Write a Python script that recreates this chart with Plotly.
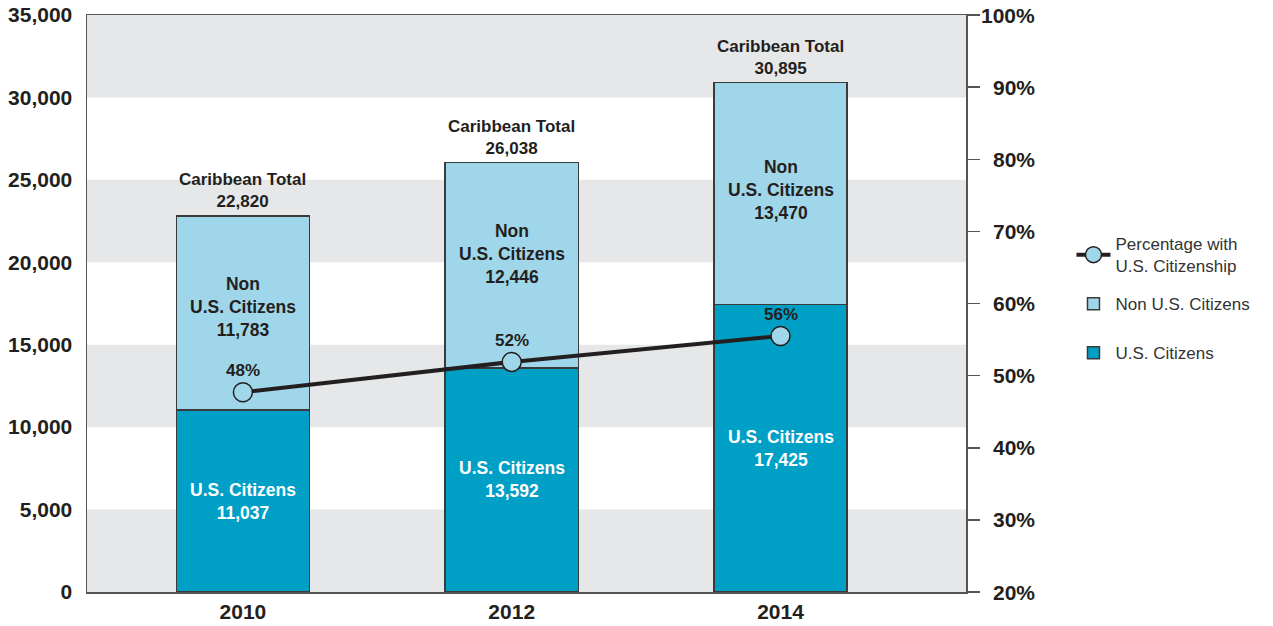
import plotly.graph_objects as go

years = ["2010", "2012", "2014"]
us_citizens = [11037, 13592, 17425]
non_us = [11783, 12446, 13470]
totals = [22820, 26038, 30895]
pct_with_us = [47.7, 51.9, 55.5]
pct_labels = ["48%", "52%", "56%"]
left_ticks = [0, 5000, 10000, 15000, 20000, 25000, 30000, 35000]
right_ticks = [20, 30, 40, 50, 60, 70, 80, 90, 100]

xpos = list(range(len(years)))
DARK = "#231f20"
AX = "#555555"
US_COL = "#00a0c6"
NON_COL = "#a0d6ea"
FONT = "Liberation Sans"

fig = go.Figure()

fig.add_trace(go.Bar(
    x=xpos, y=us_citizens, name="U.S. Citizens", width=0.495,
    marker=dict(color=US_COL, line=dict(color="#3a3a3a", width=1.5)),
    legend="legend3", hoverinfo="skip"))
fig.add_trace(go.Bar(
    x=xpos, y=non_us, name="Non U.S. Citizens", width=0.495,
    marker=dict(color=NON_COL, line=dict(color="#3a3a3a", width=1.5)),
    legend="legend2", hoverinfo="skip"))
fig.add_trace(go.Scatter(
    x=xpos, y=pct_with_us, yaxis="y2", mode="lines+markers",
    name="Percentage with<br>U.S. Citizenship",
    line=dict(color=DARK, width=4),
    marker=dict(size=19, color=NON_COL, line=dict(color=DARK, width=1.5)),
    legend="legend", hoverinfo="skip"))

# alternating bands
shapes = []
for i in range(0, len(left_ticks) - 1, 2):
    shapes.append(dict(type="rect", xref="paper", x0=0, x1=1, yref="y",
                       y0=left_ticks[i], y1=left_ticks[i + 1],
                       fillcolor="#e6e7e8", line=dict(width=0), layer="below"))

annotations = []
non_shift = [6, 11, 4]
for i in xpos:
    annotations.append(dict(
        x=i, y=totals[i], xref="x", yref="y", yanchor="bottom", yshift=3,
        text=f"<b>Caribbean Total<br>{totals[i]:,}</b>", showarrow=False,
        font=dict(family=FONT, size=17, color=DARK)))
    annotations.append(dict(
        x=i, y=us_citizens[i] + non_us[i] / 2, xref="x", yref="y",
        yshift=non_shift[i],
        text=f"<b>Non<br>U.S. Citizens<br>{non_us[i]:,}</b>", showarrow=False,
        font=dict(family=FONT, size=17.5, color=DARK)))
    annotations.append(dict(
        x=i, y=us_citizens[i] / 2, xref="x", yref="y",
        text=f"<b>U.S. Citizens<br>{us_citizens[i]:,}</b>", showarrow=False,
        font=dict(family=FONT, size=17.5, color="white")))
    annotations.append(dict(
        x=i, y=pct_with_us[i], xref="x", yref="y2", yanchor="bottom", yshift=10,
        text=f"<b>{pct_labels[i]}</b>", showarrow=False,
        font=dict(family=FONT, size=17, color=DARK)))

# right axis labels right-aligned
for t in right_ticks:
    annotations.append(dict(
        x=1, xref="paper", y=t, yref="y2", xanchor="right", xshift=71,
        text=f"<b>{t}%</b>", showarrow=False,
        font=dict(family=FONT, size=21, color=DARK)))

leg_common = dict(x=1.12, xanchor="left", yanchor="middle",
                  font=dict(family=FONT, size=17, color="#333333"),
                  bgcolor="rgba(0,0,0,0)", itemwidth=34)

fig.update_layout(
    width=1273, height=626,
    margin=dict(l=87, r=307, t=15, b=34, autoexpand=False),
    paper_bgcolor="white", plot_bgcolor="rgba(0,0,0,0)",
    barmode="stack", bargap=0,
    shapes=shapes, annotations=annotations,
    showlegend=True,
    legend=dict(y=0.584, **leg_common),
    legend2=dict(y=0.499, **leg_common),
    legend3=dict(y=0.414, **leg_common),
    xaxis=dict(range=[-0.58, 2.69], tickvals=xpos, ticktext=years,
               showgrid=False, zeroline=False,
               showline=True, linecolor=AX, linewidth=1.5, mirror=True,
               ticks="", tickfont=dict(family=FONT, size=21, color=DARK, weight="bold")),
    yaxis=dict(range=[0, 35000], tickvals=left_ticks,
               ticktext=[f"{v:,}" for v in left_ticks],
               showgrid=False, zeroline=False,
               showline=True, linecolor=AX, linewidth=1.5,
               ticks="", ticklabelstandoff=9, ticklabeloverflow="allow",
               tickfont=dict(family=FONT, size=21, color=DARK, weight="bold")),
    yaxis2=dict(range=[20, 100], tickvals=right_ticks, overlaying="y", side="right",
                showgrid=False, zeroline=False, showticklabels=False,
                showline=True, linecolor=AX, linewidth=1.5,
                ticks="outside", ticklen=12, tickcolor=AX, tickwidth=1.5),
)

fig.write_html(
    "out.html",
    config={"displayModeBar": False, "staticPlot": True},
    post_script="document.body.style.margin='0';document.body.style.overflow='hidden';",
)
